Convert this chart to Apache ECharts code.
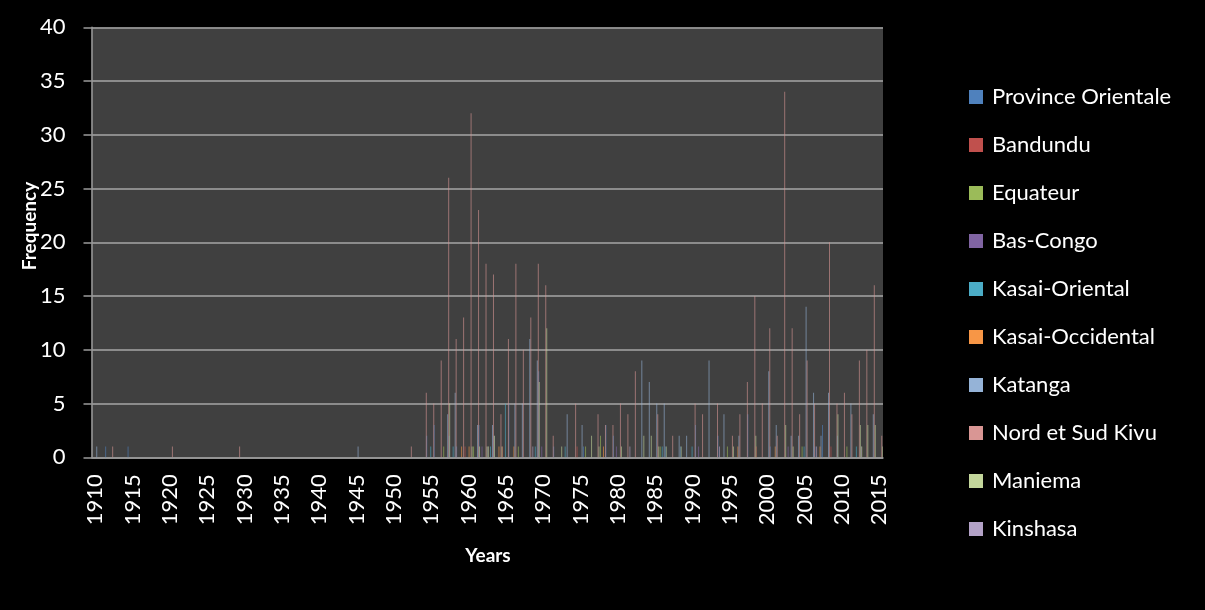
<!DOCTYPE html>
<html>
<head>
<meta charset="utf-8">
<script src="https://cdn.jsdelivr.net/npm/echarts@6/dist/echarts.min.js"></script>
<style>
  html, body { margin: 0; padding: 0; background: #000; }
  #chart { width: 1205px; height: 610px; }
</style>
</head>
<body>
<div id="chart"></div>
<script>
// Years on the category axis (one category per year)
const firstYear = 1910;
const lastYear = 2015;
const years = [];
for (let y = firstYear; y <= lastYear; y++) years.push(String(y));

const yTicks = { min: 0, max: 40, step: 5 };

// Yearly frequency per province, listed as [year, count] for years with events
const provinceOrientale = [[1912,1],[1915,1],[1955,2],[1956,3],[1958,2],[1959,1],[1962,3],[1964,2],[1966,5],[1970,8],[1972,1],[1976,1],[1979,3],[1980,2],[1987,1],[1989,1],[1991,3],[1994,2],[1998,4],[2001,1],[2007,1],[2008,3],[2010,2]];
const bandundu = [[1960,1],[1965,1],[1975,1],[1999,1],[2009,1]];
const equateur = [[1957,1],[1961,1],[1963,1],[1967,1],[1976,1],[1978,2],[1986,1],[1995,1],[2005,1],[2011,1],[2013,1]];
const basCongo = [[1962,1],[1970,1],[1980,1],[1991,1],[2003,1]];
const kasaiOriental = [[1955,1],[1958,1],[1963,1],[1965,5],[1969,1],[1973,1],[1986,1],[1990,1],[2005,1],[2012,1]];
const kasaiOccidental = [[1959,1],[1960,1],[1964,1],[1966,1],[1978,1],[1996,1],[2001,1],[2007,1]];
const katanga = [[1910,1],[1945,1],[1957,4],[1958,6],[1961,3],[1963,3],[1966,5],[1967,5],[1968,11],[1969,9],[1973,4],[1975,3],[1983,9],[1984,7],[1985,5],[1986,5],[1988,2],[1989,2],[1992,9],[1994,4],[1996,2],[2000,8],[2001,3],[2003,2],[2004,2],[2005,14],[2006,6],[2007,2],[2008,6],[2011,5],[2014,4]];
const nordSudKivu = [[1912,1],[1920,1],[1929,1],[1952,1],[1954,6],[1955,5],[1956,9],[1957,26],[1958,11],[1959,13],[1960,32],[1961,23],[1962,18],[1963,17],[1964,4],[1965,11],[1966,18],[1967,10],[1968,13],[1969,18],[1970,16],[1971,2],[1974,5],[1977,4],[1978,3],[1979,3],[1980,5],[1981,4],[1982,8],[1985,4],[1987,2],[1990,5],[1991,4],[1993,5],[1995,2],[1996,4],[1997,7],[1998,15],[1999,5],[2000,12],[2001,2],[2002,34],[2003,12],[2004,4],[2005,9],[2006,5],[2008,20],[2009,5],[2010,6],[2011,4],[2012,9],[2013,10],[2014,16],[2015,2]];
const maniema = [[1957,5],[1960,1],[1961,1],[1962,1],[1963,2],[1964,1],[1969,7],[1970,12],[1972,1],[1976,2],[1977,1],[1980,1],[1983,2],[1984,2],[1985,1],[1986,1],[1988,1],[1995,1],[1998,2],[2002,3],[2003,1],[2009,4],[2012,3],[2013,3],[2014,3],[2015,1]];
const kinshasa = [[1962,1],[1968,1],[1981,1],[1993,1],[2006,1],[2012,1]];

const seriesNames = ['Province Orientale','Bandundu','Equateur','Bas-Congo','Kasai-Oriental','Kasai-Occidental','Katanga','Nord et Sud Kivu','Maniema','Kinshasa'];
const seriesData = [provinceOrientale, bandundu, equateur, basCongo, kasaiOriental, kasaiOccidental, katanga, nordSudKivu, maniema, kinshasa];
const seriesColors = ['#4F81BD','#C0504D','#9BBB59','#8064A2','#4BACC6','#F79646','#95B3D7','#D99694','#C3D69B','#B3A2C7'];

// Expand the sparse [year, count] lists into one value per category
function toYearly(pairs) {
  const out = years.map(() => 0);
  pairs.forEach(([yr, v]) => { out[yr - firstYear] = v; });
  return out;
}

const FONT = 'Lato, "Open Sans", sans-serif';

const chart = echarts.init(document.getElementById('chart'), null, { renderer: 'canvas' });

chart.setOption({
  backgroundColor: '#000000',
  animation: false,
  grid: {
    left: 91.5, right: 322, top: 27.3, bottom: 152.7,
    show: true, backgroundColor: '#404040', borderWidth: 0
  },
  legend: {
    orient: 'vertical',
    left: 969, top: 85,
    padding: 0,
    itemWidth: 14, itemHeight: 14, itemGap: 24,
    icon: 'rect',
    itemStyle: { opacity: 1 },
    textStyle: { color: '#ffffff', fontSize: 22, fontFamily: FONT, lineHeight: 24, padding: [0, 0, 0, 4] },
    data: seriesNames
  },
  xAxis: {
    type: 'category',
    data: years,
    axisLine: { show: true, lineStyle: { color: '#9a9a9a', width: 1.5 } },
    axisTick: { show: false },
    axisLabel: {
      interval: 4, rotate: 90, margin: 17,
      color: '#ffffff', fontSize: 22, fontFamily: FONT
    },
    splitLine: { show: false }
  },
  yAxis: {
    type: 'value',
    min: yTicks.min, max: yTicks.max, interval: yTicks.step,
    axisLine: { show: true, lineStyle: { color: '#9a9a9a', width: 1.5 } },
    axisTick: { show: true, inside: false, length: 8, lineStyle: { color: '#9a9a9a', width: 1.5 } },
    axisLabel: { margin: 26, color: '#ffffff', fontSize: 22, fontFamily: FONT },
    splitLine: { show: true, lineStyle: { color: '#a6a6a6', width: 1.6 } }
  },
  graphic: [
    {
      type: 'text', x: 30, y: 226, rotation: Math.PI / 2,
      style: { text: 'Frequency', fill: '#ffffff', font: 'bold 19px ' + FONT, textAlign: 'center', textVerticalAlign: 'middle' }
    },
    {
      type: 'text', x: 488, y: 556,
      style: { text: 'Years', fill: '#ffffff', font: 'bold 19px ' + FONT, textAlign: 'center', textVerticalAlign: 'middle' }
    }
  ],
  series: seriesNames.map((name, i) => ({
    name: name,
    type: 'bar',
    data: toYearly(seriesData[i]),
    barGap: '0%',
    barCategoryGap: '13%',
    itemStyle: { color: seriesColors[i], opacity: 0.6 },
    emphasis: { disabled: true }
  }))
});
</script>
</body>
</html>
